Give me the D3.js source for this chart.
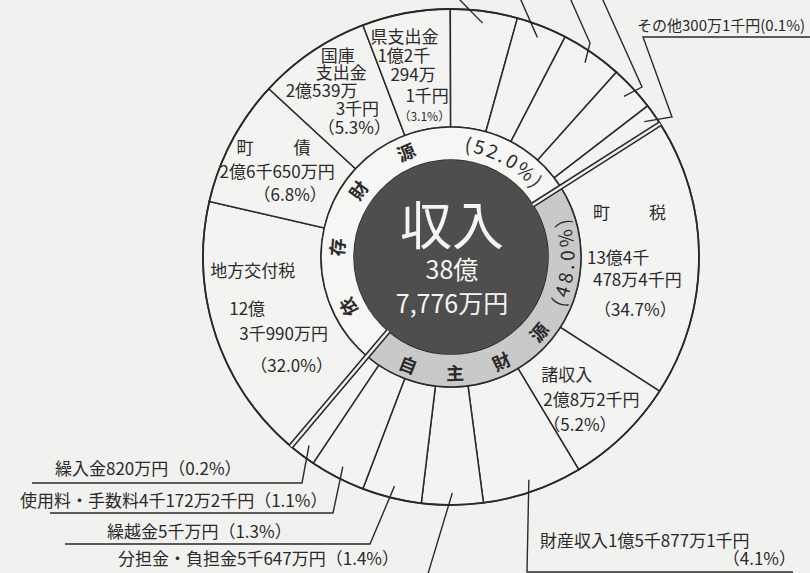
<!DOCTYPE html>
<html>
<head>
<meta charset="utf-8">
<script src="https://cdn.jsdelivr.net/npm/d3@7"></script>
<style type="text/css">
  body{
    margin: 0px;
    background: #f1f1ef;
  }
  text{
    font-family: 'Noto Sans CJK JP', 'Noto Sans', sans-serif;
    fill: #2a2a2a;
  }
  .line{
    fill: none;
    stroke: #2a2a2a;
    stroke-width: 1.5px;
  }
</style>
</head>
<body>

<script>

// ---- data ----
var totalLines = ["38億", "7,776万円"];
var groupNames = ["自主財源", "依存財源"];
var groupShares = [48.0, 52.0];

// clockwise from the 自主/依存 boundary at upper right
var categories = ["町税", "諸収入", "財産収入", "分担金・負担金", "繰越金", "使用料・手数料", "繰入金",
                  "地方交付税", "町債", "国庫支出金", "県支出金", null, null, null, null, "その他"];
var categoryGroup = [0, 0, 0, 0, 0, 0, 0, 1, 1, 1, 1, 1, 1, 1, 1, 1];
var shares = [34.7, 5.2, 4.1, 1.4, 1.3, 1.1, 0.2, 32.0, 6.8, 5.3, 3.1, 1.7, 0.9, 1.4, 0.7, 0.1];
var amounts = ["13億4千478万4千円", "2億8万2千円", "1億5千877万1千円", "5千647万円", "5千万円", "4千172万2千円", "820万円",
               "12億3千990万円", "2億6千650万円", "2億539万3千円", "1億2千294万1千円", null, null, null, null, "300万1千円"];
// (the four null slices have their labels above the cropped top of the picture)

// ---- layout ----
var W = 810, H = 573;
var cx = 451, cy = 257;
var rCore = 97, rBand = 130, rOuter = 248;
var startDeg = 57.5;

// the original is not drawn to scale: small items are widened, read as a square-root scale
var weight = d3.scaleSqrt().domain([0, 100]).range([0.15, 10.15]);

var innerLabels = {
  0:  {nameLS: 39, amountBreaks: [5], pos: [[-48, -38.5], [-54, 6.5], [-48, 28.5], [-47, 58.5]]},
  1:  {pos: [[-42, -12], [-40, 13], [-40, 38]]},
  7:  {amountBreaks: [3], pos: [[-60.5, -40], [-41.5, -2], [-31.5, 23], [-20.5, 55]]},
  8:  {nameLS: 40, pos: [[-46.4, -14], [-63.4, 10], [-29.4, 33]]},
  9:  {nameBreaks: [2], amountBreaks: [6], pos: [[-24, -38], [-29, -21], [-59, -3], [-9, 15], [-27, 34]]},
  10: {amountBreaks: [4, 8], smallPct: true, pos: [[-46, -27.6], [-39, -8.6], [-26, 10.4], [-11, 31.4], [-18, 50.4]]}
};

var callouts = {
  2:  {text: [[540, 547, "start"]], pctRow: [796, 565, "end"], leader: [[527, 572], [793, 572]]},
  3:  {text: [[118, 565, "start"]], leader: [[427, 577], [118, 577]]},
  4:  {text: [[107, 538, "start"]], leader: [[370, 544], [65, 544]]},
  5:  {text: [[20, 507, "start"]], leader: [[333, 513], [50, 513]]},
  6:  {text: [[55, 475, "start"]], leader: [[302, 483], [32, 483]]},
  11: {leader: [[458, -2]]},
  12: {leader: [[520, -2]]},
  13: {leader: [[590, 43], [570, -2]]},
  14: {leader: [[642, 87], [602, -2]]},
  15: {text: [[637, 31, "start"]], size: 15, narrow: true, leader: [[672, 117], [643, 37], [812, 37]]}
};

// band lettering: kanji gap, gap before the percentage, percent gap, angular shift
var bandType = {
  0: {gap: 29.6, pre: -6.6, pctGap: 3.2, shift: 0},
  1: {gap: 44, pre: 8, pctGap: 3.2, shift: 6}
};

function rad(deg) { return deg * Math.PI / 180; }
function pt(a, r) { return [cx + r * Math.sin(a), cy - r * Math.cos(a)]; }
function pieces(s, breaks) {
  var out = [], from = 0;
  (breaks || []).forEach(function(b) { out.push(s.slice(from, b)); from = b; });
  out.push(s.slice(from));
  return out;
}
function pctText(v, narrow) {
  return narrow ? "(" + v.toFixed(1) + "%)" : "（" + v.toFixed(1) + "%）";
}

var rows = categories.map(function(c, i) {
  return {i: i, name: c, share: shares[i], amount: amounts[i], group: categoryGroup[i]};
});

var a0 = rad(startDeg);
var pie = d3.pie().sort(null)
    .value(function(d) { return weight(d.share); })
    .startAngle(a0).endAngle(a0 + 2 * Math.PI);
var slices = pie(rows);

// group band spans follow the slices of each group
var bands = groupNames.map(function(g, gi) {
  var own = slices.filter(function(s) { return s.data.group === gi; });
  return {name: g, share: groupShares[gi], gi: gi,
          startAngle: d3.min(own, function(s) { return s.startAngle; }),
          endAngle: d3.max(own, function(s) { return s.endAngle; })};
});

var svg = d3.select("body").append("svg")
    .attr("width", W)
    .attr("height", H);

// outer ring slices
var outerArc = d3.arc().innerRadius(rBand).outerRadius(rOuter);
svg.append("g").selectAll("path")
    .data(slices)
  .enter().append("path")
    .attr("transform", "translate(" + cx + "," + cy + ")")
    .attr("d", outerArc)
    .attr("fill", "#f3f3f1")
    .attr("stroke", "#2a2a2a")
    .attr("stroke-width", 1.5);

svg.append("circle")
    .attr("class", "line")
    .attr("cx", cx).attr("cy", cy).attr("r", rOuter)
    .style("stroke-width", "1.8px");

// band of the two groups
var bandArc = d3.arc().innerRadius(rCore).outerRadius(rBand);
svg.append("g").selectAll("path")
    .data(bands)
  .enter().append("path")
    .attr("transform", "translate(" + cx + "," + cy + ")")
    .attr("d", bandArc)
    .attr("fill", function(d) { return d.gi === 0 ? "#c9c9c9" : "#f6f6f4"; })
    .attr("stroke", "#2a2a2a")
    .attr("stroke-width", 1.5);

// double lines on the group boundaries
bands.forEach(function(b) {
  var p1 = pt(b.startAngle, rCore - 2), p2 = pt(b.startAngle, rOuter);
  svg.append("line")
      .attr("x1", p1[0]).attr("y1", p1[1]).attr("x2", p2[0]).attr("y2", p2[1])
      .attr("stroke", "#2a2a2a").attr("stroke-width", 5.6);
  svg.append("line")
      .attr("x1", p1[0]).attr("y1", p1[1]).attr("x2", p2[0]).attr("y2", p2[1])
      .attr("stroke", "#f4f4f2").attr("stroke-width", 2.4);
});

// center
svg.append("circle")
    .attr("cx", cx).attr("cy", cy).attr("r", rCore)
    .attr("fill", "#4e4e4e");

svg.append("text")
    .attr("x", cx + 1).attr("y", 245)
    .attr("text-anchor", "middle")
    .style("font-size", "52px")
    .style("fill", "#f4f4f4")
    .text("収入");

totalLines.forEach(function(t, k) {
  svg.append("text")
      .attr("x", cx + 1).attr("y", 279 + k * 34)
      .attr("text-anchor", "middle")
      .style("font-size", "25px")
      .style("fill", "#f4f4f4")
      .text(t);
});

// group names set letter by letter round the band
var probe = svg.append("text");
bands.forEach(function(b) {
  var T = bandType[b.gi];
  var upper = b.gi === 1;
  var rText = 115;
  var glyphs = [];
  b.name.split("").forEach(function(ch) {
    glyphs.push({ch: ch, size: 18, bold: true, gap: T.gap, pre: 0});
  });
  ("(" + b.share.toFixed(1) + "%)").split("").forEach(function(ch, k) {
    glyphs.push({ch: ch, size: 19, bold: false, gap: T.pctGap, pre: k === 0 ? T.pre : 0});
  });

  var s = 0;
  glyphs.forEach(function(g) {
    probe.style("font-size", g.size + "px")
         .style("font-weight", g.bold ? "bold" : "normal")
         .text(g.ch);
    g.w = probe.node().getComputedTextLength();
    s += g.pre;
    g.c = s + g.w / 2;
    s += g.w + g.gap;
  });
  var total = s - glyphs[glyphs.length - 1].gap;
  var mid = (b.startAngle + b.endAngle) / 2 + rad(T.shift);
  var dir = upper ? 1 : -1;

  glyphs.forEach(function(g) {
    var a = mid + dir * (g.c - total / 2) / rText;
    var p = pt(a, rText);
    var rot = a * 180 / Math.PI + (upper ? 0 : 180);
    svg.append("text")
        .attr("transform", "translate(" + p[0] + "," + p[1] + ") rotate(" + rot + ")")
        .attr("text-anchor", "middle")
        .attr("dominant-baseline", "central")
        .style("font-size", g.size + "px")
        .style("font-weight", g.bold ? "bold" : "normal")
        .text(g.ch);
  });
});
probe.remove();

// labels inside the slices
slices.forEach(function(s) {
  var L = innerLabels[s.data.i];
  if (!L) return;
  var mid = (s.startAngle + s.endAngle) / 2;
  var anchor = pt(mid, 190);
  var lines = pieces(s.data.name, L.nameBreaks)
      .concat(pieces(s.data.amount, L.amountBreaks))
      .concat([pctText(s.data.share)]);
  lines.forEach(function(t, k) {
    var tx = svg.append("text")
        .attr("x", anchor[0] + L.pos[k][0])
        .attr("y", anchor[1] + L.pos[k][1])
        .style("font-size", (L.smallPct && k === lines.length - 1) ? "12px" : "17px")
        .text(t);
    if (k === 0 && L.nameLS) tx.style("letter-spacing", L.nameLS + "px");
  });
});

// callouts with leader lines
var leaderLine = d3.line();
slices.forEach(function(s) {
  var C = callouts[s.data.i];
  if (!C) return;
  var mid = (s.startAngle + s.endAngle) / 2;
  var pts = [pt(mid, 236)].concat(C.leader);
  svg.append("path")
      .attr("class", "line")
      .style("stroke-width", "1.4px")
      .attr("d", leaderLine(pts));
  if (!C.text) return;
  var first = s.data.name + s.data.amount + (C.pctRow ? "" : pctText(s.data.share, C.narrow));
  svg.append("text")
      .attr("x", C.text[0][0]).attr("y", C.text[0][1])
      .attr("text-anchor", C.text[0][2])
      .style("font-size", (C.size || 17) + "px")
      .text(first);
  if (C.pctRow) {
    svg.append("text")
        .attr("x", C.pctRow[0]).attr("y", C.pctRow[1])
        .attr("text-anchor", C.pctRow[2])
        .style("font-size", "17px")
        .text(pctText(s.data.share));
  }
});

</script>

</body>
</html>
